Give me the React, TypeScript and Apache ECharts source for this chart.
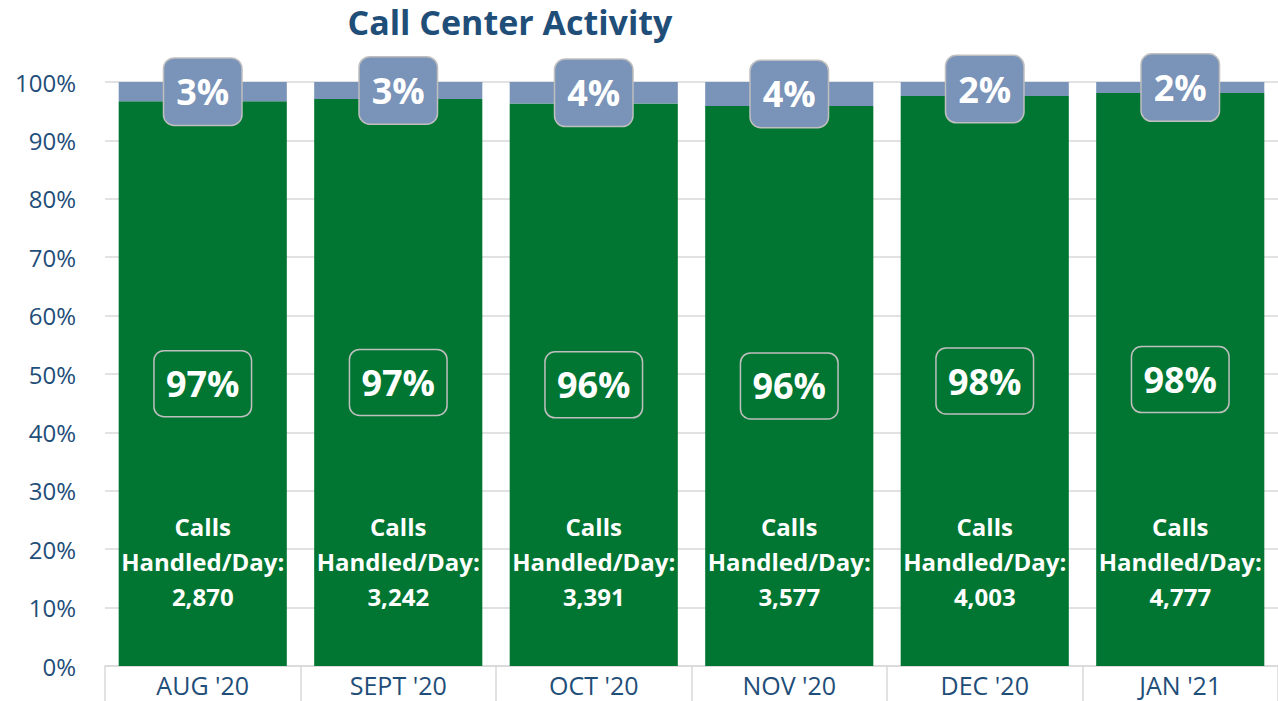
import React, { useEffect, useRef } from "react";
import * as echarts from "echarts";

const categories = ["AUG '20", "SEPT '20", "OCT '20", "NOV '20", "DEC '20", "JAN '21"];
const handledPct = [96.7, 97.1, 96.3, 95.9, 97.6, 98.1];
const abandonedPct = [3.3, 2.9, 3.7, 4.1, 2.4, 1.9];
const callsPerDay = [2870, 3242, 3391, 3577, 4003, 4777];
const yTicks = [0, 10, 20, 30, 40, 50, 60, 70, 80, 90, 100];

const FONT = "'Open Sans', Lato, sans-serif";
const DARK_BLUE = "#1F4E79";
const GREEN = "#007632";
const SLATE = "#7A93B8";

export default function App() {
  const ref = useRef<HTMLDivElement>(null);
  useEffect(() => {
    if (!ref.current) return;
    const chart = echarts.init(ref.current, null, { renderer: "svg" });
    chart.setOption({
      animation: false,
      backgroundColor: "#ffffff",
      title: {
        text: "Call Center Activity",
        left: 510,
        textAlign: "center",
        top: 2,
        padding: 0,
        textStyle: {
          fontFamily: FONT,
          fontWeight: "bold",
          fontSize: 34,
          lineHeight: 40,
          color: DARK_BLUE,
        },
      },
      grid: { left: 105, right: -7, top: 82, bottom: 35 },
      xAxis: {
        type: "category",
        data: categories,
        axisLine: { show: true, lineStyle: { color: "#D9D9D9", width: 1.5 } },
        axisTick: { show: true, length: 36, lineStyle: { color: "#D9D9D9", width: 1.5 } },
        axisLabel: {
          fontFamily: FONT,
          fontSize: 25,
          lineHeight: 26,
          color: DARK_BLUE,
          margin: 6,
        },
      },
      yAxis: {
        type: "value",
        min: 0,
        max: yTicks[yTicks.length - 1],
        interval: 10,
        axisLine: { show: false },
        axisTick: { show: false },
        splitLine: { lineStyle: { color: "#D9D9D9", width: 1.5 } },
        axisLabel: {
          fontFamily: FONT,
          fontSize: 24,
          color: DARK_BLUE,
          margin: 29,
          formatter: (v: number) => `${v}%`,
        },
      },
      series: [
        {
          name: "Handled",
          type: "bar",
          stack: "total",
          barCategoryGap: "14%",
          data: handledPct,
          itemStyle: { color: GREEN },
          label: {
            show: true,
            position: "inside",
            formatter: (p: any) => `${Math.round(p.value)}%`,
            fontFamily: FONT,
            fontWeight: "bold",
            fontSize: 36,
            lineHeight: 40,
            color: "#ffffff",
            borderColor: "#BFBFBF",
            borderWidth: 1.5,
            borderRadius: 10,
            padding: [13, 12, 13, 12],
          },
        },
        {
          name: "Abandoned",
          type: "bar",
          stack: "total",
          data: abandonedPct,
          itemStyle: { color: SLATE },
          label: {
            show: true,
            position: "inside",
            formatter: (p: any) => `${Math.round(p.value)}%`,
            fontFamily: FONT,
            fontWeight: "bold",
            fontSize: 36,
            lineHeight: 40,
            color: "#ffffff",
            backgroundColor: SLATE,
            borderColor: "#BFBFBF",
            borderWidth: 1.5,
            borderRadius: 10,
            padding: [13, 12, 13, 12],
          },
        },
        {
          name: "Calls",
          type: "bar",
          barGap: "-100%",
          data: handledPct,
          itemStyle: { color: "rgba(0,0,0,0)" },
          silent: true,
          z: 5,
          label: {
            show: true,
            position: "insideBottom",
            distance: 52,
            formatter: (p: any) =>
              `Calls\nHandled/Day:\n${callsPerDay[p.dataIndex].toLocaleString("en-US")}`,
            fontFamily: FONT,
            fontWeight: "bold",
            fontSize: 24,
            lineHeight: 35,
            color: "#ffffff",
            align: "center",
          },
        },
      ],
    });
    return () => chart.dispose();
  }, []);
  return (
    <div
      ref={ref}
      style={{ position: "fixed", left: 0, top: 0, width: 1278, height: 701 }}
    />
  );
}
